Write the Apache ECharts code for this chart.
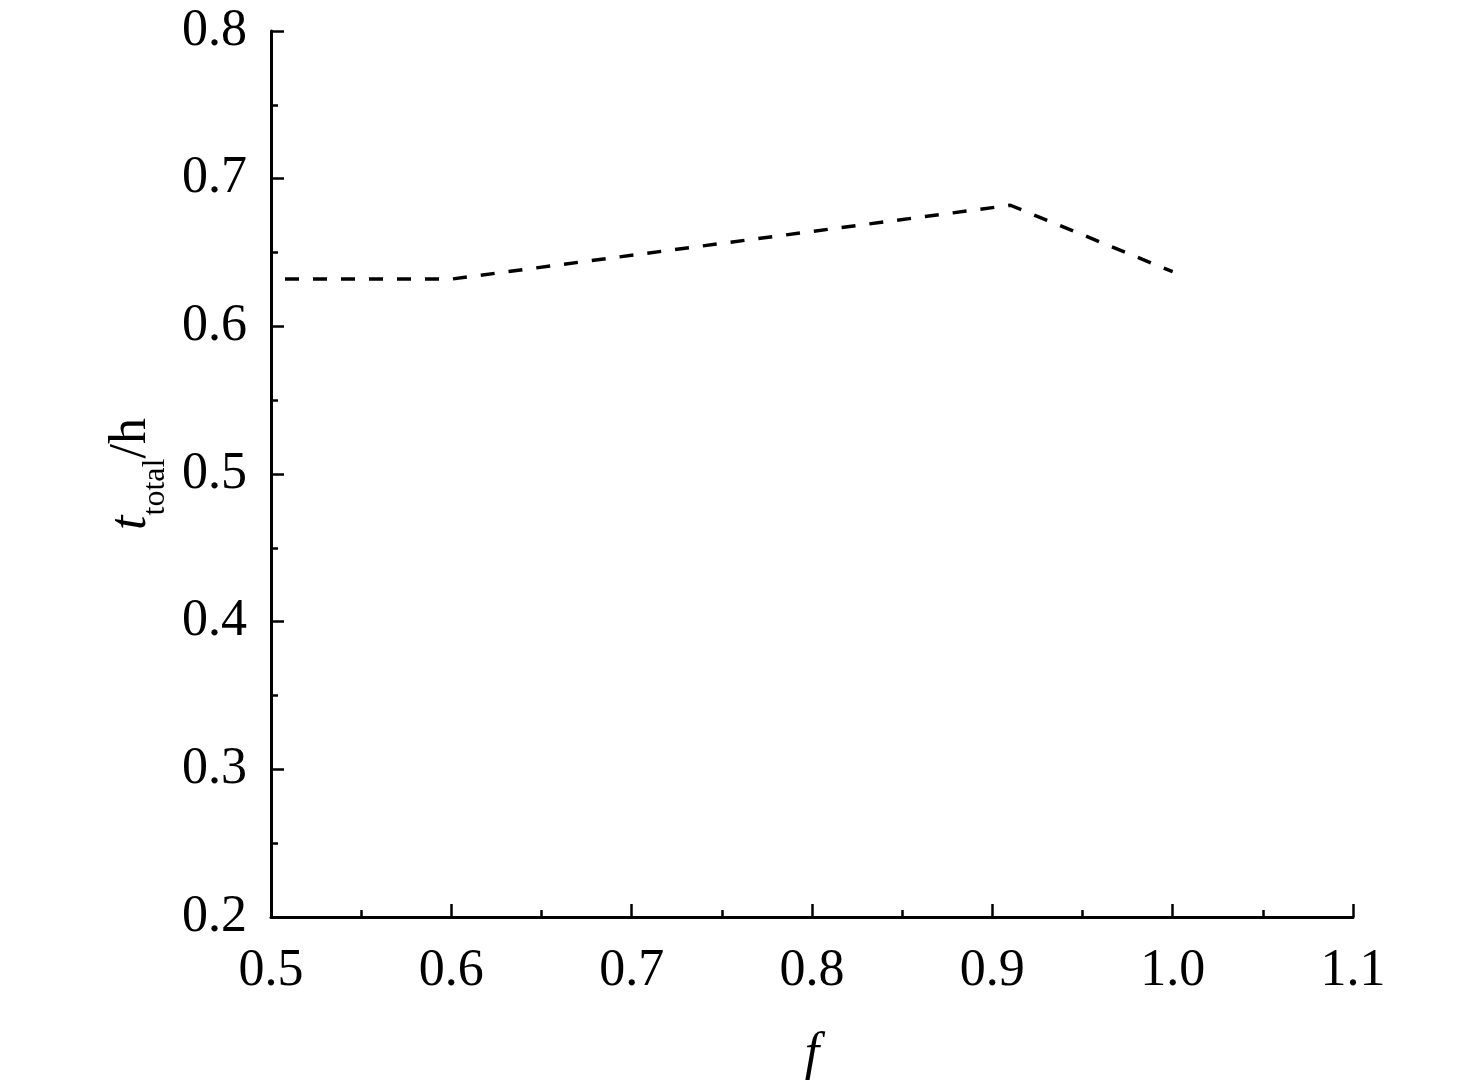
<!DOCTYPE html>
<html>
<head>
    <meta http-equiv="Content-Type" content="text/html; charset=utf-8"/>
    <script src="https://cdn.jsdelivr.net/npm/echarts@6/dist/echarts.min.js"></script>
    <style>
        html, body { margin: 0; padding: 0; background: #fff; overflow: hidden; }
    </style>
</head>
<body>
<div id="main" style="width:100vw;height:100vh;"></div>

<script type="text/javascript">
    // f 取值与总时间 (h)
    var fValues = [0.5, 0.6, 0.91, 1.0];
    var tTotal = [0.632, 0.632, 0.682, 0.637];
    var xTicks = ['0.5', '0.6', '0.7', '0.8', '0.9', '1.0', '1.1'];
    var yTicks = ['0.2', '0.3', '0.4', '0.5', '0.6', '0.7', '0.8'];

    var points = [];
    for (var i = 0; i < fValues.length; i++) {
        points.push([fValues[i], tTotal[i]]);
    }

    var font = 'Liberation Serif';
    var axisLine = {lineStyle: {color: '#000', width: 3}};

    var myChart = echarts.init(document.getElementById('main'));
    var option = {
        backgroundColor: '#fff',
        animation: false,
        grid: {left: 271, top: 31, right: 123, bottom: 167, containLabel: false},
        xAxis: {
            type: 'value',
            min: 0.5, max: 1.1, interval: 0.1,
            name: 'f',
            nameLocation: 'middle',
            nameGap: 112,
            nameTextStyle: {fontFamily: font, fontSize: 52, fontStyle: 'italic', color: '#000'},
            axisLine: axisLine,
            axisTick: {inside: true, length: 13, lineStyle: {color: '#000', width: 2.5}},
            minorTick: {show: true, splitNumber: 2, length: 7, lineStyle: {color: '#000', width: 2.5}},
            splitLine: {show: false},
            axisLabel: {
                margin: 28, fontFamily: font, fontSize: 52, color: '#000',
                formatter: function (v) {
                    return xTicks[Math.round((v - 0.5) * 10)];
                }
            }
        },
        yAxis: {
            type: 'value',
            min: 0.2, max: 0.8, interval: 0.1,
            name: '{i|t}{s|total}{n|/h}',
            nameLocation: 'middle',
            nameRotate: 90,
            nameGap: 112,
            nameTextStyle: {
                fontFamily: font, fontSize: 52, color: '#000',
                rich: {
                    i: {fontFamily: font, fontSize: 52, fontStyle: 'italic', color: '#000'},
                    s: {fontFamily: font, fontSize: 32, color: '#000', verticalAlign: 'bottom', padding: [0, 0, -14, 0]},
                    n: {fontFamily: font, fontSize: 52, color: '#000'}
                }
            },
            axisLine: axisLine,
            axisTick: {inside: true, length: 13, lineStyle: {color: '#000', width: 2.5}},
            minorTick: {show: true, splitNumber: 2, length: 7, lineStyle: {color: '#000', width: 2.5}},
            splitLine: {show: false},
            axisLabel: {
                margin: 24, fontFamily: font, fontSize: 52, color: '#000',
                formatter: function (v) {
                    return yTicks[Math.round((v - 0.2) * 10)];
                }
            }
        },
        series: [
            {
                type: 'line',
                data: points,
                symbol: 'none',
                lineStyle: {color: '#000', width: 3.5, type: [14, 14], dashOffset: 14}
            }
        ]
    };
    myChart.setOption(option);
</script>
</body>
</html>
